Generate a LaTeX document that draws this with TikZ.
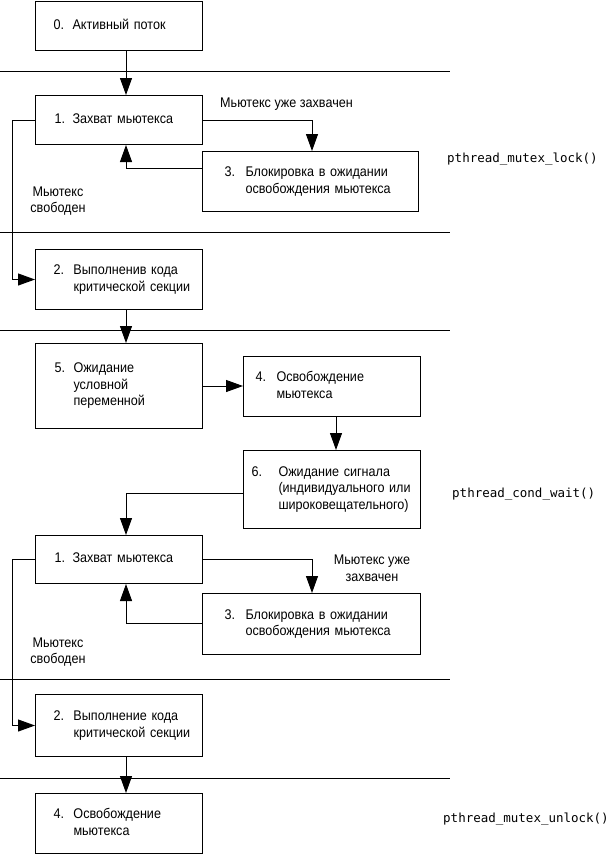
\documentclass[tikz,border=0pt]{standalone}
\usepackage{fontspec}
\setmainfont{Liberation Sans}[FakeStretch=0.9]
\newfontfamily\monofont{DejaVu Sans Mono}
\usetikzlibrary{arrows.meta}
\begin{document}
\begin{tikzpicture}[x=1pt,y=-1pt,
  box/.style={draw, line width=1pt, rectangle, anchor=north west, align=left, inner ysep=0pt},
  conn/.style={line width=1pt, -{Triangle[length=17pt,width=12pt]}},
  sep/.style={line width=1pt},
  lbl/.style={inner sep=0pt, align=center},
  fn/.style={inner sep=0pt, font=\monofont\fontsize{12.5}{15}\selectfont, anchor=west},
  every node/.style={font=\fontsize{14}{16.5}\selectfont}]
\useasboundingbox (0,0) rectangle (611,855);
% separators
\draw[sep] (0,71) -- (450,71);
\draw[sep] (0,232) -- (450,232);
\draw[sep] (0,330) -- (450,330);
\draw[sep] (0,679) -- (450,679);
\draw[sep] (0,778) -- (450,778);
% boxes
\node[box, minimum width=167pt, minimum height=49pt, inner xsep=18pt, text width=131pt] (b0) at (35,1)
  {\begin{tabular}{@{}l@{\hspace{8.5pt}}l@{}}0.&Активный поток\end{tabular}};
\node[box, minimum width=167pt, minimum height=49pt, inner xsep=19pt, text width=129pt] (b1) at (35,95)
  {\begin{tabular}{@{}l@{\hspace{7.5pt}}l@{}}1.&Захват мьютекса\end{tabular}};
\node[box, minimum width=216pt, minimum height=60pt, inner xsep=22pt, text width=172pt] (b3) at (202,151)
  {\begin{tabular}{@{}l@{\hspace{10.5pt}}l@{}}3.&Блокировка в ожидании\\&освобождения мьютекса\end{tabular}};
\node[box, minimum width=167pt, minimum height=60pt, inner xsep=18pt, text width=131pt] (b2) at (35,249)
  {\begin{tabular}{@{}l@{\hspace{9.5pt}}l@{}}2.&Выполненив кода\\&критической секции\end{tabular}};
\node[box, minimum width=167pt, minimum height=85pt, inner xsep=19pt, text width=129pt] (b5) at (35,343)
  {\begin{tabular}{@{}l@{\hspace{8.5pt}}l@{}}5.&Ожидание\\&условной\\&переменной\end{tabular}};
\node[box, minimum width=177pt, minimum height=60pt, inner xsep=12pt, text width=153pt] (b4) at (243,356)
  {\begin{tabular}{@{}l@{\hspace{10.5pt}}l@{}}4.&Освобождение\\&мьютекса\end{tabular}};
\node[box, minimum width=177pt, minimum height=78pt, inner xsep=8pt, text width=161pt] (b6) at (243,450)
  {\begin{tabular}{@{}l@{\hspace{16.5pt}}l@{}}6.&Ожидание сигнала\\&(индивидуального или\\&широковещательного)\end{tabular}};
\node[box, minimum width=167pt, minimum height=48pt, inner xsep=19pt, text width=129pt] (b1b) at (35,535)
  {\begin{tabular}{@{}l@{\hspace{7.5pt}}l@{}}1.&Захват мьютекса\end{tabular}};
\node[box, minimum width=218pt, minimum height=61pt, inner xsep=22pt, text width=174pt] (b3b) at (202,593)
  {\begin{tabular}{@{}l@{\hspace{10.5pt}}l@{}}3.&Блокировка в ожидании\\&освобождения мьютекса\end{tabular}};
\node[box, minimum width=167pt, minimum height=62pt, inner xsep=18pt, text width=131pt] (b2b) at (35,694)
  {\begin{tabular}{@{}l@{\hspace{9.5pt}}l@{}}2.&Выполнение кода\\&критической секции\end{tabular}};
\node[box, minimum width=167pt, minimum height=60pt, inner xsep=18pt, text width=131pt] (b4b) at (35,793)
  {\begin{tabular}{@{}l@{\hspace{9.5pt}}l@{}}4.&Освобождение\\&мьютекса\end{tabular}};
% labels
\node[lbl, anchor=west] (l1) at (220,104) {Мьютекс уже захвачен};
\node[lbl] (l2) at (58,201) {Мьютекс\\свободен};
\node[lbl] (l3) at (372,568) {Мьютекс уже\\захвачен};
\node[lbl] (l4) at (58,652) {Мьютекс\\свободен};
\node[fn] (f1) at (447,159) {pthread\_mutex\_lock()};
\node[fn] (f2) at (452,494) {pthread\_cond\_wait()};
\node[fn] (f3) at (443,819) {pthread\_mutex\_unlock()};
% connectors
\draw[conn] ([xshift=91pt]b0.south west) -- ([xshift=91pt]b1.north west);
\draw[conn] (b1.east) -| ([xshift=110pt]b3.north west);
\draw[conn] ([yshift=-17pt]b3.north west) -| ([xshift=91pt]b1.south west);
\draw[conn] (b1.west) -- ++(-23,0) |- (b2.west);
\draw[conn] ([xshift=91pt]b2.south west) -- ([xshift=91pt]b5.north west);
\draw[conn] (b5.east) -- (b5.east -| b4.west);
\draw[conn] ([xshift=93pt]b4.south west) -- ([xshift=93pt]b6.north west);
\draw[conn] ([yshift=-43pt]b6.north west) -| ([xshift=91pt]b1b.north west);
\draw[conn] (b1b.east) -| ([xshift=110pt]b3b.north west);
\draw[conn] ([yshift=-30pt]b3b.north west) -| ([xshift=91pt]b1b.south west);
\draw[conn] (b1b.west) -- ++(-23,0) |- (b2b.west);
\draw[conn] ([xshift=91pt]b2b.south west) -- ([xshift=91pt]b4b.north west);
\end{tikzpicture}
\end{document}
